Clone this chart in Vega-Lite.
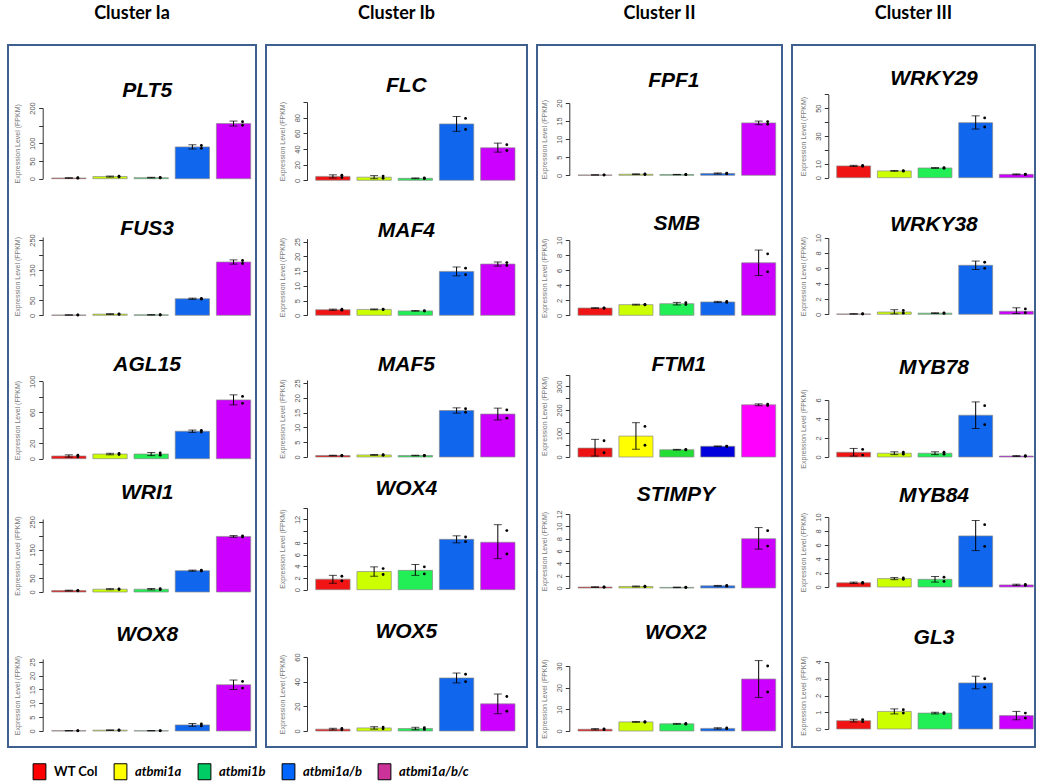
{
"$schema":"https://vega.github.io/schema/vega-lite/v6.json",
"padding":{"left":7,"top":4,"right":0,"bottom":0},
"background":"white",
"spacing":8,
"config":{
 "view":{"stroke":"#3f5f8f","strokeWidth":2},
 "font":"Liberation Sans",
 "axis":{"grid":false,"domainColor":"#333","tickColor":"#333","tickSize":4,"labelFontSize":7.5,"labelColor":"#555","labelAngle":270,"labelAlign":"center","labelBaseline":"bottom","labelPadding":2,"titleFontSize":7,"titleColor":"#777","titleFontWeight":"normal","titlePadding":8,"labelOverlap":false,"labelFlush":false,"format":"d"},
 "title":{"font":"Lato","fontSize":18,"fontWeight":"bold","color":"black","offset":22,"baseline":"alphabetic","anchor":"middle"}
},
"data":{"values":[
{"gene":"PLT5","geno":"WT Col","mean":2,"lo":1.2,"hi":2.8,"r1":1.4,"r2":2.6},
{"gene":"PLT5","geno":"atbmi1a","mean":6,"lo":4.5,"hi":7.5,"r1":5,"r2":7},
{"gene":"PLT5","geno":"atbmi1b","mean":3,"lo":2,"hi":4,"r1":2.3,"r2":3.7},
{"gene":"PLT5","geno":"atbmi1a/b","mean":90,"lo":84,"hi":96,"r1":86,"r2":94},
{"gene":"PLT5","geno":"atbmi1a/b/c","mean":156,"lo":149,"hi":163,"r1":151,"r2":161},
{"gene":"FUS3","geno":"WT Col","mean":1,"lo":0.5,"hi":1.5,"r1":0.6,"r2":1.4},
{"gene":"FUS3","geno":"atbmi1a","mean":4,"lo":2.5,"hi":5.5,"r1":3,"r2":5},
{"gene":"FUS3","geno":"atbmi1b","mean":1.5,"lo":0.8,"hi":2.2,"r1":1,"r2":2},
{"gene":"FUS3","geno":"atbmi1a/b","mean":55,"lo":53,"hi":57,"r1":53.6,"r2":56.4},
{"gene":"FUS3","geno":"atbmi1a/b/c","mean":177,"lo":170,"hi":184,"r1":172,"r2":182},
{"gene":"AGL15","geno":"WT Col","mean":3.5,"lo":2,"hi":5,"r1":2.5,"r2":4.5},
{"gene":"AGL15","geno":"atbmi1a","mean":6,"lo":5,"hi":7,"r1":5.3,"r2":6.7},
{"gene":"AGL15","geno":"atbmi1b","mean":6,"lo":4,"hi":8,"r1":4.6,"r2":7.4},
{"gene":"AGL15","geno":"atbmi1a/b","mean":35.5,"lo":34,"hi":37,"r1":34.4,"r2":36.6},
{"gene":"AGL15","geno":"atbmi1a/b/c","mean":76,"lo":69.5,"hi":82.5,"r1":71.5,"r2":80.5},
{"gene":"WRI1","geno":"WT Col","mean":5,"lo":3.5,"hi":6.5,"r1":4,"r2":6},
{"gene":"WRI1","geno":"atbmi1a","mean":10,"lo":8,"hi":12,"r1":8.6,"r2":11.4},
{"gene":"WRI1","geno":"atbmi1b","mean":10,"lo":7.5,"hi":12.5,"r1":8.2,"r2":11.8},
{"gene":"WRI1","geno":"atbmi1a/b","mean":76,"lo":74,"hi":78,"r1":74.6,"r2":77.4},
{"gene":"WRI1","geno":"atbmi1a/b/c","mean":198,"lo":195,"hi":201,"r1":196,"r2":200},
{"gene":"WOX8","geno":"WT Col","mean":0.1,"lo":0.05,"hi":0.15,"r1":0.07,"r2":0.13},
{"gene":"WOX8","geno":"atbmi1a","mean":0.3,"lo":0.2,"hi":0.4,"r1":0.23,"r2":0.37},
{"gene":"WOX8","geno":"atbmi1b","mean":0.1,"lo":0.05,"hi":0.15,"r1":0.07,"r2":0.13},
{"gene":"WOX8","geno":"atbmi1a/b","mean":2.2,"lo":1.7,"hi":2.7,"r1":1.85,"r2":2.55},
{"gene":"WOX8","geno":"atbmi1a/b/c","mean":16.7,"lo":15,"hi":18.4,"r1":15.5,"r2":17.9},
{"gene":"FLC","geno":"WT Col","mean":5,"lo":3,"hi":7,"r1":3.6,"r2":6.4},
{"gene":"FLC","geno":"atbmi1a","mean":4,"lo":2,"hi":6,"r1":2.6,"r2":5.4},
{"gene":"FLC","geno":"atbmi1b","mean":2.5,"lo":2,"hi":3,"r1":2.1,"r2":2.9},
{"gene":"FLC","geno":"atbmi1a/b","mean":72,"lo":62.5,"hi":81.5,"r1":65,"r2":79},
{"gene":"FLC","geno":"atbmi1a/b/c","mean":41.5,"lo":36,"hi":47.5,"r1":38,"r2":45.5},
{"gene":"MAF4","geno":"WT Col","mean":1.9,"lo":1.7,"hi":2.1,"r1":1.75,"r2":2.05},
{"gene":"MAF4","geno":"atbmi1a","mean":2,"lo":1.85,"hi":2.15,"r1":1.9,"r2":2.1},
{"gene":"MAF4","geno":"atbmi1b","mean":1.5,"lo":1.4,"hi":1.6,"r1":1.43,"r2":1.57},
{"gene":"MAF4","geno":"atbmi1a/b","mean":14.9,"lo":13.4,"hi":16.4,"r1":13.8,"r2":16},
{"gene":"MAF4","geno":"atbmi1a/b/c","mean":17.4,"lo":16.7,"hi":18.1,"r1":16.9,"r2":17.9},
{"gene":"MAF5","geno":"WT Col","mean":0.5,"lo":0.4,"hi":0.6,"r1":0.43,"r2":0.57},
{"gene":"MAF5","geno":"atbmi1a","mean":0.7,"lo":0.55,"hi":0.85,"r1":0.6,"r2":0.8},
{"gene":"MAF5","geno":"atbmi1b","mean":0.5,"lo":0.4,"hi":0.6,"r1":0.43,"r2":0.57},
{"gene":"MAF5","geno":"atbmi1a/b","mean":15.7,"lo":14.8,"hi":16.6,"r1":15.1,"r2":16.3},
{"gene":"MAF5","geno":"atbmi1a/b/c","mean":14.5,"lo":12.5,"hi":16.5,"r1":13.1,"r2":15.9},
{"gene":"WOX4","geno":"WT Col","mean":1.8,"lo":1.1,"hi":2.45,"r1":1.5,"r2":2.3},
{"gene":"WOX4","geno":"atbmi1a","mean":3.1,"lo":2.3,"hi":3.9,"r1":2.6,"r2":3.6},
{"gene":"WOX4","geno":"atbmi1b","mean":3.3,"lo":2.45,"hi":4.3,"r1":2.7,"r2":3.9},
{"gene":"WOX4","geno":"atbmi1a/b","mean":8.6,"lo":8,"hi":9.2,"r1":8.2,"r2":9},
{"gene":"WOX4","geno":"atbmi1a/b/c","mean":8.1,"lo":5.3,"hi":11.1,"r1":6.1,"r2":10.1},
{"gene":"WOX5","geno":"WT Col","mean":1.5,"lo":0.8,"hi":2.2,"r1":1,"r2":2},
{"gene":"WOX5","geno":"atbmi1a","mean":2.5,"lo":1.5,"hi":3.5,"r1":1.8,"r2":3.2},
{"gene":"WOX5","geno":"atbmi1b","mean":2,"lo":1,"hi":3,"r1":1.3,"r2":2.7},
{"gene":"WOX5","geno":"atbmi1a/b","mean":43,"lo":39,"hi":47,"r1":40,"r2":46},
{"gene":"WOX5","geno":"atbmi1a/b/c","mean":22,"lo":14,"hi":30,"r1":16,"r2":28},
{"gene":"FPF1","geno":"WT Col","mean":0.1,"lo":0.05,"hi":0.15,"r1":0.07,"r2":0.13},
{"gene":"FPF1","geno":"atbmi1a","mean":0.3,"lo":0.2,"hi":0.4,"r1":0.23,"r2":0.37},
{"gene":"FPF1","geno":"atbmi1b","mean":0.2,"lo":0.15,"hi":0.25,"r1":0.17,"r2":0.23},
{"gene":"FPF1","geno":"atbmi1a/b","mean":0.5,"lo":0.35,"hi":0.65,"r1":0.4,"r2":0.6},
{"gene":"FPF1","geno":"atbmi1a/b/c","mean":14.5,"lo":14,"hi":15,"r1":14.15,"r2":14.85},
{"gene":"SMB","geno":"WT Col","mean":0.97,"lo":0.93,"hi":1.01,"r1":0.94,"r2":1},
{"gene":"SMB","geno":"atbmi1a","mean":1.42,"lo":1.36,"hi":1.48,"r1":1.38,"r2":1.46},
{"gene":"SMB","geno":"atbmi1b","mean":1.55,"lo":1.38,"hi":1.72,"r1":1.43,"r2":1.67},
{"gene":"SMB","geno":"atbmi1a/b","mean":1.78,"lo":1.7,"hi":1.86,"r1":1.72,"r2":1.84},
{"gene":"SMB","geno":"atbmi1a/b/c","mean":7,"lo":5.3,"hi":8.7,"r1":5.8,"r2":8.2},
{"gene":"FTM1","geno":"WT Col","mean":38,"lo":4,"hi":75,"r1":18,"r2":69},
{"gene":"FTM1","geno":"atbmi1a","mean":89,"lo":33,"hi":146,"r1":50,"r2":130},
{"gene":"FTM1","geno":"atbmi1b","mean":31,"lo":29.5,"hi":32.5,"r1":30,"r2":32},
{"gene":"FTM1","geno":"atbmi1a/b","mean":45.5,"lo":44,"hi":47,"r1":44.5,"r2":46.5},
{"gene":"FTM1","geno":"atbmi1a/b/c","mean":222,"lo":218,"hi":226,"r1":219,"r2":225},
{"gene":"STIMPY","geno":"WT Col","mean":0.15,"lo":0.1,"hi":0.2,"r1":0.12,"r2":0.18},
{"gene":"STIMPY","geno":"atbmi1a","mean":0.25,"lo":0.18,"hi":0.32,"r1":0.2,"r2":0.3},
{"gene":"STIMPY","geno":"atbmi1b","mean":0.1,"lo":0.06,"hi":0.14,"r1":0.07,"r2":0.13},
{"gene":"STIMPY","geno":"atbmi1a/b","mean":0.35,"lo":0.28,"hi":0.42,"r1":0.3,"r2":0.4},
{"gene":"STIMPY","geno":"atbmi1a/b/c","mean":8,"lo":6.3,"hi":9.8,"r1":6.8,"r2":9.3},
{"gene":"WOX2","geno":"WT Col","mean":0.8,"lo":0.5,"hi":1.1,"r1":0.6,"r2":1},
{"gene":"WOX2","geno":"atbmi1a","mean":4.2,"lo":4,"hi":4.4,"r1":4.05,"r2":4.35},
{"gene":"WOX2","geno":"atbmi1b","mean":3.3,"lo":3.1,"hi":3.5,"r1":3.15,"r2":3.45},
{"gene":"WOX2","geno":"atbmi1a/b","mean":1.2,"lo":0.9,"hi":1.5,"r1":1,"r2":1.4},
{"gene":"WOX2","geno":"atbmi1a/b/c","mean":24,"lo":15.5,"hi":32.5,"r1":18,"r2":30},
{"gene":"WRKY29","geno":"WT Col","mean":8.5,"lo":8.1,"hi":8.9,"r1":8.2,"r2":8.8},
{"gene":"WRKY29","geno":"atbmi1a","mean":4.9,"lo":4.6,"hi":5.2,"r1":4.7,"r2":5.1},
{"gene":"WRKY29","geno":"atbmi1b","mean":7,"lo":6.7,"hi":7.3,"r1":6.8,"r2":7.2},
{"gene":"WRKY29","geno":"atbmi1a/b","mean":39.6,"lo":35,"hi":44.5,"r1":36.5,"r2":43},
{"gene":"WRKY29","geno":"atbmi1a/b/c","mean":2.4,"lo":2.1,"hi":2.7,"r1":2.2,"r2":2.6},
{"gene":"WRKY38","geno":"WT Col","mean":0.05,"lo":0.02,"hi":0.08,"r1":0.03,"r2":0.07},
{"gene":"WRKY38","geno":"atbmi1a","mean":0.3,"lo":0.05,"hi":0.6,"r1":0.15,"r2":0.5},
{"gene":"WRKY38","geno":"atbmi1b","mean":0.15,"lo":0.1,"hi":0.2,"r1":0.12,"r2":0.18},
{"gene":"WRKY38","geno":"atbmi1a/b","mean":6.4,"lo":5.85,"hi":6.95,"r1":6,"r2":6.8},
{"gene":"WRKY38","geno":"atbmi1a/b/c","mean":0.4,"lo":0.1,"hi":0.85,"r1":0.2,"r2":0.7},
{"gene":"MYB78","geno":"WT Col","mean":0.5,"lo":0.1,"hi":0.9,"r1":0.2,"r2":0.8},
{"gene":"MYB78","geno":"atbmi1a","mean":0.4,"lo":0.25,"hi":0.55,"r1":0.3,"r2":0.5},
{"gene":"MYB78","geno":"atbmi1b","mean":0.4,"lo":0.25,"hi":0.55,"r1":0.3,"r2":0.5},
{"gene":"MYB78","geno":"atbmi1a/b","mean":4.4,"lo":3,"hi":5.8,"r1":3.4,"r2":5.4},
{"gene":"MYB78","geno":"atbmi1a/b/c","mean":0.1,"lo":0.05,"hi":0.15,"r1":0.07,"r2":0.13},
{"gene":"MYB84","geno":"WT Col","mean":0.6,"lo":0.5,"hi":0.7,"r1":0.53,"r2":0.67},
{"gene":"MYB84","geno":"atbmi1a","mean":1.2,"lo":1.05,"hi":1.35,"r1":1.1,"r2":1.3},
{"gene":"MYB84","geno":"atbmi1b","mean":1.1,"lo":0.7,"hi":1.5,"r1":0.8,"r2":1.4},
{"gene":"MYB84","geno":"atbmi1a/b","mean":7.3,"lo":5.2,"hi":9.5,"r1":5.8,"r2":8.9},
{"gene":"MYB84","geno":"atbmi1a/b/c","mean":0.3,"lo":0.2,"hi":0.4,"r1":0.23,"r2":0.37},
{"gene":"GL3","geno":"WT Col","mean":0.5,"lo":0.42,"hi":0.58,"r1":0.44,"r2":0.56},
{"gene":"GL3","geno":"atbmi1a","mean":1.05,"lo":0.9,"hi":1.2,"r1":0.95,"r2":1.15},
{"gene":"GL3","geno":"atbmi1b","mean":0.95,"lo":0.9,"hi":1,"r1":0.92,"r2":0.98},
{"gene":"GL3","geno":"atbmi1a/b","mean":2.75,"lo":2.4,"hi":3.15,"r1":2.5,"r2":3},
{"gene":"GL3","geno":"atbmi1a/b/c","mean":0.8,"lo":0.55,"hi":1.05,"r1":0.65,"r2":0.95}
]},
"hconcat":[
{"title":"Cluster Ia","width":248,"height":702,
 "resolve":{"scale":{"y":"independent"},"axis":{"y":"independent"}},
 "layer":[
  {"transform":[{"filter":"datum.gene === 'PLT5'"}],
   "encoding":{"x":{"field":"geno","type":"nominal","sort":null,"scale":{"domain":["WT Col","atbmi1a","atbmi1b","atbmi1a/b","atbmi1a/b/c"],"range":[43.7,242.7],"paddingInner":0.1667,"paddingOuter":0},"axis":null}},
   "layer":[
    {"mark":{"type":"bar","stroke":"#8a8a8a","strokeWidth":0.7},"encoding":{"y":{"field":"mean","type":"quantitative","title":"Expression Level (FPKM)","scale":{"domain":[0,200],"range":[133.7,63]},"axis":{"orient":"left","offset":-34.7,"format":"d","values":[0,50,100,150,200],"labelExpr":"indexof([150], datum.value) >= 0 ? '' : datum.label"}},"fill":{"field":"geno","type":"nominal","scale":{"domain":["WT Col","atbmi1a","atbmi1b","atbmi1a/b","atbmi1a/b/c"],"range":["#f01414","#ccff00","#22ee55","#1166ee","#cc00ff"]},"legend":null}}},
    {"mark":{"type":"errorbar","ticks":{"size":8,"thickness":1,"color":"black"},"rule":{"strokeWidth":1,"color":"black"}},"encoding":{"y":{"field":"lo","type":"quantitative","title":"Expression Level (FPKM)"},"y2":{"field":"hi"}}},
    {"mark":{"type":"point","filled":true,"color":"black","size":8,"xOffset":9,"opacity":1},"encoding":{"y":{"field":"r1","type":"quantitative","title":"Expression Level (FPKM)"}}},
    {"mark":{"type":"point","filled":true,"color":"black","size":8,"xOffset":9,"opacity":1},"encoding":{"y":{"field":"r2","type":"quantitative","title":"Expression Level (FPKM)"}}},
    {"mark":{"type":"point","shape":"square","filled":true,"opacity":0},"encoding":{"y":{"field":"mean","type":"quantitative","title":"Expression Level (FPKM)"},"color":{"field":"geno","type":"nominal","sort":["WT Col","atbmi1a","atbmi1b","atbmi1a/b","atbmi1a/b/c"],"scale":{"range":["#ff0000","#ffff00","#00cc66","#0066ff","#cc3399"]},"legend":{"orient":"none","legendX":23,"legendY":718,"direction":"horizontal","title":null,"symbolType":"M-0.8,-1H0.8V1H-0.8Z","symbolSize":256,"labelFont":"Lato","labelFontSize":13,"labelFontWeight":"bold","labelColor":"black","labelOffset":6,"columnPadding":14,"encode":{"symbols":{"update":{"opacity":{"value":1},"stroke":{"value":"black"},"strokeWidth":{"value":1}}},"labels":{"update":{"fontStyle":{"signal":"datum.label === 'WT Col' ? 'normal' : 'italic'"}}}}}}}},
    {"data":{"values":[{"gene":"PLT5"}]},"mark":{"type":"text","font":"Liberation Sans","fontSize":21,"fontWeight":"bold","fontStyle":"italic","align":"center","baseline":"alphabetic","dx":-4,"dy":-11},"encoding":{"x":{"datum":"atbmi1b","bandPosition":0.5},"y":{"datum":200},"text":{"field":"gene"}}}
   ]},
  {"transform":[{"filter":"datum.gene === 'FUS3'"}],
   "encoding":{"x":{"field":"geno","type":"nominal","sort":null,"scale":{"domain":["WT Col","atbmi1a","atbmi1b","atbmi1a/b","atbmi1a/b/c"],"range":[43.7,242.7],"paddingInner":0.1667,"paddingOuter":0},"axis":null}},
   "layer":[
    {"mark":{"type":"bar","stroke":"#8a8a8a","strokeWidth":0.7},"encoding":{"y":{"field":"mean","type":"quantitative","title":"Expression Level (FPKM)","scale":{"domain":[0,250],"range":[270.3,192]},"axis":{"orient":"left","offset":-34.7,"format":"d","values":[0,50,100,150,200,250],"labelExpr":"indexof([100,200], datum.value) >= 0 ? '' : datum.label"}},"fill":{"field":"geno","type":"nominal","legend":null}}},
    {"mark":{"type":"errorbar","ticks":{"size":8,"thickness":1,"color":"black"},"rule":{"strokeWidth":1,"color":"black"}},"encoding":{"y":{"field":"lo","type":"quantitative","title":"Expression Level (FPKM)"},"y2":{"field":"hi"}}},
    {"mark":{"type":"point","filled":true,"color":"black","size":8,"xOffset":9,"opacity":1},"encoding":{"y":{"field":"r1","type":"quantitative","title":"Expression Level (FPKM)"}}},
    {"mark":{"type":"point","filled":true,"color":"black","size":8,"xOffset":9,"opacity":1},"encoding":{"y":{"field":"r2","type":"quantitative","title":"Expression Level (FPKM)"}}},
    {"data":{"values":[{"gene":"FUS3"}]},"mark":{"type":"text","font":"Liberation Sans","fontSize":21,"fontWeight":"bold","fontStyle":"italic","align":"center","baseline":"alphabetic","dx":-4,"dy":-5},"encoding":{"x":{"datum":"atbmi1b","bandPosition":0.5},"y":{"datum":250},"text":{"field":"gene"}}}
   ]},
  {"transform":[{"filter":"datum.gene === 'AGL15'"}],
   "encoding":{"x":{"field":"geno","type":"nominal","sort":null,"scale":{"domain":["WT Col","atbmi1a","atbmi1b","atbmi1a/b","atbmi1a/b/c"],"range":[43.7,242.7],"paddingInner":0.1667,"paddingOuter":0},"axis":null}},
   "layer":[
    {"mark":{"type":"bar","stroke":"#8a8a8a","strokeWidth":0.7},"encoding":{"y":{"field":"mean","type":"quantitative","title":"Expression Level (FPKM)","scale":{"domain":[0,100],"range":[413.7,336.3]},"axis":{"orient":"left","offset":-34.7,"format":"d","values":[0,20,40,60,80,100],"labelExpr":"indexof([40,80], datum.value) >= 0 ? '' : datum.label"}},"fill":{"field":"geno","type":"nominal","legend":null}}},
    {"mark":{"type":"errorbar","ticks":{"size":8,"thickness":1,"color":"black"},"rule":{"strokeWidth":1,"color":"black"}},"encoding":{"y":{"field":"lo","type":"quantitative","title":"Expression Level (FPKM)"},"y2":{"field":"hi"}}},
    {"mark":{"type":"point","filled":true,"color":"black","size":8,"xOffset":9,"opacity":1},"encoding":{"y":{"field":"r1","type":"quantitative","title":"Expression Level (FPKM)"}}},
    {"mark":{"type":"point","filled":true,"color":"black","size":8,"xOffset":9,"opacity":1},"encoding":{"y":{"field":"r2","type":"quantitative","title":"Expression Level (FPKM)"}}},
    {"data":{"values":[{"gene":"AGL15"}]},"mark":{"type":"text","font":"Liberation Sans","fontSize":21,"fontWeight":"bold","fontStyle":"italic","align":"center","baseline":"alphabetic","dx":-4,"dy":-10},"encoding":{"x":{"datum":"atbmi1b","bandPosition":0.5},"y":{"datum":100},"text":{"field":"gene"}}}
   ]},
  {"transform":[{"filter":"datum.gene === 'WRI1'"}],
   "encoding":{"x":{"field":"geno","type":"nominal","sort":null,"scale":{"domain":["WT Col","atbmi1a","atbmi1b","atbmi1a/b","atbmi1a/b/c"],"range":[43.7,242.7],"paddingInner":0.1667,"paddingOuter":0},"axis":null}},
   "layer":[
    {"mark":{"type":"bar","stroke":"#8a8a8a","strokeWidth":0.7},"encoding":{"y":{"field":"mean","type":"quantitative","title":"Expression Level (FPKM)","scale":{"domain":[0,250],"range":[547,474]},"axis":{"orient":"left","offset":-34.7,"format":"d","values":[0,50,100,150,200,250],"labelExpr":"indexof([100,200], datum.value) >= 0 ? '' : datum.label"}},"fill":{"field":"geno","type":"nominal","legend":null}}},
    {"mark":{"type":"errorbar","ticks":{"size":8,"thickness":1,"color":"black"},"rule":{"strokeWidth":1,"color":"black"}},"encoding":{"y":{"field":"lo","type":"quantitative","title":"Expression Level (FPKM)"},"y2":{"field":"hi"}}},
    {"mark":{"type":"point","filled":true,"color":"black","size":8,"xOffset":9,"opacity":1},"encoding":{"y":{"field":"r1","type":"quantitative","title":"Expression Level (FPKM)"}}},
    {"mark":{"type":"point","filled":true,"color":"black","size":8,"xOffset":9,"opacity":1},"encoding":{"y":{"field":"r2","type":"quantitative","title":"Expression Level (FPKM)"}}},
    {"data":{"values":[{"gene":"WRI1"}]},"mark":{"type":"text","font":"Liberation Sans","fontSize":21,"fontWeight":"bold","fontStyle":"italic","align":"center","baseline":"alphabetic","dx":-4,"dy":-23},"encoding":{"x":{"datum":"atbmi1b","bandPosition":0.5},"y":{"datum":250},"text":{"field":"gene"}}}
   ]},
  {"transform":[{"filter":"datum.gene === 'WOX8'"}],
   "encoding":{"x":{"field":"geno","type":"nominal","sort":null,"scale":{"domain":["WT Col","atbmi1a","atbmi1b","atbmi1a/b","atbmi1a/b/c"],"range":[43.7,242.7],"paddingInner":0.1667,"paddingOuter":0},"axis":null}},
   "layer":[
    {"mark":{"type":"bar","stroke":"#8a8a8a","strokeWidth":0.7},"encoding":{"y":{"field":"mean","type":"quantitative","title":"Expression Level (FPKM)","scale":{"domain":[0,25],"range":[686,614]},"axis":{"orient":"left","offset":-34.7,"format":"d","values":[0,5,10,15,20,25]}},"fill":{"field":"geno","type":"nominal","legend":null}}},
    {"mark":{"type":"errorbar","ticks":{"size":8,"thickness":1,"color":"black"},"rule":{"strokeWidth":1,"color":"black"}},"encoding":{"y":{"field":"lo","type":"quantitative","title":"Expression Level (FPKM)"},"y2":{"field":"hi"}}},
    {"mark":{"type":"point","filled":true,"color":"black","size":8,"xOffset":9,"opacity":1},"encoding":{"y":{"field":"r1","type":"quantitative","title":"Expression Level (FPKM)"}}},
    {"mark":{"type":"point","filled":true,"color":"black","size":8,"xOffset":9,"opacity":1},"encoding":{"y":{"field":"r2","type":"quantitative","title":"Expression Level (FPKM)"}}},
    {"data":{"values":[{"gene":"WOX8"}]},"mark":{"type":"text","font":"Liberation Sans","fontSize":21,"fontWeight":"bold","fontStyle":"italic","align":"center","baseline":"alphabetic","dx":-4,"dy":-21},"encoding":{"x":{"datum":"atbmi1b","bandPosition":0.5},"y":{"datum":25},"text":{"field":"gene"}}}
   ]}
 ]},
{"title":"Cluster Ib","width":261,"height":702,
 "resolve":{"scale":{"y":"independent"},"axis":{"y":"independent"}},
 "layer":[
  {"transform":[{"filter":"datum.gene === 'FLC'"}],
   "encoding":{"x":{"field":"geno","type":"nominal","sort":null,"scale":{"domain":["WT Col","atbmi1a","atbmi1b","atbmi1a/b","atbmi1a/b/c"],"range":[49.7,249],"paddingInner":0.1667,"paddingOuter":0},"axis":null}},
   "layer":[
    {"mark":{"type":"bar","stroke":"#8a8a8a","strokeWidth":0.7},"encoding":{"y":{"field":"mean","type":"quantitative","title":"Expression Level (FPKM)","scale":{"domain":[0,100],"range":[135.3,57]},"axis":{"orient":"left","offset":-41,"format":"d","values":[0,20,40,60,80,100],"labelExpr":"indexof([100], datum.value) >= 0 ? '' : datum.label"}},"fill":{"field":"geno","type":"nominal","legend":null}}},
    {"mark":{"type":"errorbar","ticks":{"size":8,"thickness":1,"color":"black"},"rule":{"strokeWidth":1,"color":"black"}},"encoding":{"y":{"field":"lo","type":"quantitative","title":"Expression Level (FPKM)"},"y2":{"field":"hi"}}},
    {"mark":{"type":"point","filled":true,"color":"black","size":8,"xOffset":9,"opacity":1},"encoding":{"y":{"field":"r1","type":"quantitative","title":"Expression Level (FPKM)"}}},
    {"mark":{"type":"point","filled":true,"color":"black","size":8,"xOffset":9,"opacity":1},"encoding":{"y":{"field":"r2","type":"quantitative","title":"Expression Level (FPKM)"}}},
    {"data":{"values":[{"gene":"FLC"}]},"mark":{"type":"text","font":"Liberation Sans","fontSize":21,"fontWeight":"bold","fontStyle":"italic","align":"center","baseline":"alphabetic","dx":-9,"dy":-10},"encoding":{"x":{"datum":"atbmi1b","bandPosition":0.5},"y":{"datum":100},"text":{"field":"gene"}}}
   ]},
  {"transform":[{"filter":"datum.gene === 'MAF4'"}],
   "encoding":{"x":{"field":"geno","type":"nominal","sort":null,"scale":{"domain":["WT Col","atbmi1a","atbmi1b","atbmi1a/b","atbmi1a/b/c"],"range":[49.7,249],"paddingInner":0.1667,"paddingOuter":0},"axis":null}},
   "layer":[
    {"mark":{"type":"bar","stroke":"#8a8a8a","strokeWidth":0.7},"encoding":{"y":{"field":"mean","type":"quantitative","title":"Expression Level (FPKM)","scale":{"domain":[0,25],"range":[270.3,193.7]},"axis":{"orient":"left","offset":-41,"format":"d","values":[0,5,10,15,20,25]}},"fill":{"field":"geno","type":"nominal","legend":null}}},
    {"mark":{"type":"errorbar","ticks":{"size":8,"thickness":1,"color":"black"},"rule":{"strokeWidth":1,"color":"black"}},"encoding":{"y":{"field":"lo","type":"quantitative","title":"Expression Level (FPKM)"},"y2":{"field":"hi"}}},
    {"mark":{"type":"point","filled":true,"color":"black","size":8,"xOffset":9,"opacity":1},"encoding":{"y":{"field":"r1","type":"quantitative","title":"Expression Level (FPKM)"}}},
    {"mark":{"type":"point","filled":true,"color":"black","size":8,"xOffset":9,"opacity":1},"encoding":{"y":{"field":"r2","type":"quantitative","title":"Expression Level (FPKM)"}}},
    {"data":{"values":[{"gene":"MAF4"}]},"mark":{"type":"text","font":"Liberation Sans","fontSize":21,"fontWeight":"bold","fontStyle":"italic","align":"center","baseline":"alphabetic","dx":-9,"dy":-5},"encoding":{"x":{"datum":"atbmi1b","bandPosition":0.5},"y":{"datum":25},"text":{"field":"gene"}}}
   ]},
  {"transform":[{"filter":"datum.gene === 'MAF5'"}],
   "encoding":{"x":{"field":"geno","type":"nominal","sort":null,"scale":{"domain":["WT Col","atbmi1a","atbmi1b","atbmi1a/b","atbmi1a/b/c"],"range":[49.7,249],"paddingInner":0.1667,"paddingOuter":0},"axis":null}},
   "layer":[
    {"mark":{"type":"bar","stroke":"#8a8a8a","strokeWidth":0.7},"encoding":{"y":{"field":"mean","type":"quantitative","title":"Expression Level (FPKM)","scale":{"domain":[0,25],"range":[412,335]},"axis":{"orient":"left","offset":-41,"format":"d","values":[0,5,10,15,20,25]}},"fill":{"field":"geno","type":"nominal","legend":null}}},
    {"mark":{"type":"errorbar","ticks":{"size":8,"thickness":1,"color":"black"},"rule":{"strokeWidth":1,"color":"black"}},"encoding":{"y":{"field":"lo","type":"quantitative","title":"Expression Level (FPKM)"},"y2":{"field":"hi"}}},
    {"mark":{"type":"point","filled":true,"color":"black","size":8,"xOffset":9,"opacity":1},"encoding":{"y":{"field":"r1","type":"quantitative","title":"Expression Level (FPKM)"}}},
    {"mark":{"type":"point","filled":true,"color":"black","size":8,"xOffset":9,"opacity":1},"encoding":{"y":{"field":"r2","type":"quantitative","title":"Expression Level (FPKM)"}}},
    {"data":{"values":[{"gene":"MAF5"}]},"mark":{"type":"text","font":"Liberation Sans","fontSize":21,"fontWeight":"bold","fontStyle":"italic","align":"center","baseline":"alphabetic","dx":-9,"dy":-12},"encoding":{"x":{"datum":"atbmi1b","bandPosition":0.5},"y":{"datum":25},"text":{"field":"gene"}}}
   ]},
  {"transform":[{"filter":"datum.gene === 'WOX4'"}],
   "encoding":{"x":{"field":"geno","type":"nominal","sort":null,"scale":{"domain":["WT Col","atbmi1a","atbmi1b","atbmi1a/b","atbmi1a/b/c"],"range":[49.7,249],"paddingInner":0.1667,"paddingOuter":0},"axis":null}},
   "layer":[
    {"mark":{"type":"bar","stroke":"#8a8a8a","strokeWidth":0.7},"encoding":{"y":{"field":"mean","type":"quantitative","title":"Expression Level (FPKM)","scale":{"domain":[0,14],"range":[544.7,462.7]},"axis":{"orient":"left","offset":-41,"format":"d","values":[0,2,4,6,8,10,12,14],"labelExpr":"indexof([10,14], datum.value) >= 0 ? '' : datum.label"}},"fill":{"field":"geno","type":"nominal","legend":null}}},
    {"mark":{"type":"errorbar","ticks":{"size":8,"thickness":1,"color":"black"},"rule":{"strokeWidth":1,"color":"black"}},"encoding":{"y":{"field":"lo","type":"quantitative","title":"Expression Level (FPKM)"},"y2":{"field":"hi"}}},
    {"mark":{"type":"point","filled":true,"color":"black","size":8,"xOffset":9,"opacity":1},"encoding":{"y":{"field":"r1","type":"quantitative","title":"Expression Level (FPKM)"}}},
    {"mark":{"type":"point","filled":true,"color":"black","size":8,"xOffset":9,"opacity":1},"encoding":{"y":{"field":"r2","type":"quantitative","title":"Expression Level (FPKM)"}}},
    {"data":{"values":[{"gene":"WOX4"}]},"mark":{"type":"text","font":"Liberation Sans","fontSize":21,"fontWeight":"bold","fontStyle":"italic","align":"center","baseline":"alphabetic","dx":-9,"dy":-12.4},"encoding":{"x":{"datum":"atbmi1b","bandPosition":0.5},"y":{"datum":14},"text":{"field":"gene"}}}
   ]},
  {"transform":[{"filter":"datum.gene === 'WOX5'"}],
   "encoding":{"x":{"field":"geno","type":"nominal","sort":null,"scale":{"domain":["WT Col","atbmi1a","atbmi1b","atbmi1a/b","atbmi1a/b/c"],"range":[49.7,249],"paddingInner":0.1667,"paddingOuter":0},"axis":null}},
   "layer":[
    {"mark":{"type":"bar","stroke":"#8a8a8a","strokeWidth":0.7},"encoding":{"y":{"field":"mean","type":"quantitative","title":"Expression Level (FPKM)","scale":{"domain":[0,60],"range":[686,612]},"axis":{"orient":"left","offset":-41,"format":"d","values":[0,20,40,60]}},"fill":{"field":"geno","type":"nominal","legend":null}}},
    {"mark":{"type":"errorbar","ticks":{"size":8,"thickness":1,"color":"black"},"rule":{"strokeWidth":1,"color":"black"}},"encoding":{"y":{"field":"lo","type":"quantitative","title":"Expression Level (FPKM)"},"y2":{"field":"hi"}}},
    {"mark":{"type":"point","filled":true,"color":"black","size":8,"xOffset":9,"opacity":1},"encoding":{"y":{"field":"r1","type":"quantitative","title":"Expression Level (FPKM)"}}},
    {"mark":{"type":"point","filled":true,"color":"black","size":8,"xOffset":9,"opacity":1},"encoding":{"y":{"field":"r2","type":"quantitative","title":"Expression Level (FPKM)"}}},
    {"data":{"values":[{"gene":"WOX5"}]},"mark":{"type":"text","font":"Liberation Sans","fontSize":21,"fontWeight":"bold","fontStyle":"italic","align":"center","baseline":"alphabetic","dx":-9,"dy":-19},"encoding":{"x":{"datum":"atbmi1b","bandPosition":0.5},"y":{"datum":60},"text":{"field":"gene"}}}
   ]}
 ]},
{"title":"Cluster II","width":245,"height":702,
 "resolve":{"scale":{"y":"independent"},"axis":{"y":"independent"}},
 "layer":[
  {"transform":[{"filter":"datum.gene === 'FPF1'"}],
   "encoding":{"x":{"field":"geno","type":"nominal","sort":null,"scale":{"domain":["WT Col","atbmi1a","atbmi1b","atbmi1a/b","atbmi1a/b/c"],"range":[41,238.7],"paddingInner":0.1667,"paddingOuter":0},"axis":null}},
   "layer":[
    {"mark":{"type":"bar","stroke":"#8a8a8a","strokeWidth":0.7},"encoding":{"y":{"field":"mean","type":"quantitative","title":"Expression Level (FPKM)","scale":{"domain":[0,20],"range":[130.3,58]},"axis":{"orient":"left","offset":-32.3,"format":"d","values":[0,5,10,15,20]}},"fill":{"field":"geno","type":"nominal","legend":null}}},
    {"mark":{"type":"errorbar","ticks":{"size":8,"thickness":1,"color":"black"},"rule":{"strokeWidth":1,"color":"black"}},"encoding":{"y":{"field":"lo","type":"quantitative","title":"Expression Level (FPKM)"},"y2":{"field":"hi"}}},
    {"mark":{"type":"point","filled":true,"color":"black","size":8,"xOffset":9,"opacity":1},"encoding":{"y":{"field":"r1","type":"quantitative","title":"Expression Level (FPKM)"}}},
    {"mark":{"type":"point","filled":true,"color":"black","size":8,"xOffset":9,"opacity":1},"encoding":{"y":{"field":"r2","type":"quantitative","title":"Expression Level (FPKM)"}}},
    {"data":{"values":[{"gene":"FPF1"}]},"mark":{"type":"text","font":"Liberation Sans","fontSize":21,"fontWeight":"bold","fontStyle":"italic","align":"center","baseline":"alphabetic","dx":-3,"dy":-16},"encoding":{"x":{"datum":"atbmi1b","bandPosition":0.5},"y":{"datum":20},"text":{"field":"gene"}}}
   ]},
  {"transform":[{"filter":"datum.gene === 'SMB'"}],
   "encoding":{"x":{"field":"geno","type":"nominal","sort":null,"scale":{"domain":["WT Col","atbmi1a","atbmi1b","atbmi1a/b","atbmi1a/b/c"],"range":[41,238.7],"paddingInner":0.1667,"paddingOuter":0},"axis":null}},
   "layer":[
    {"mark":{"type":"bar","stroke":"#8a8a8a","strokeWidth":0.7},"encoding":{"y":{"field":"mean","type":"quantitative","title":"Expression Level (FPKM)","scale":{"domain":[0,10],"range":[270.3,195.3]},"axis":{"orient":"left","offset":-32.3,"format":"d","values":[0,2,4,6,8,10]}},"fill":{"field":"geno","type":"nominal","legend":null}}},
    {"mark":{"type":"errorbar","ticks":{"size":8,"thickness":1,"color":"black"},"rule":{"strokeWidth":1,"color":"black"}},"encoding":{"y":{"field":"lo","type":"quantitative","title":"Expression Level (FPKM)"},"y2":{"field":"hi"}}},
    {"mark":{"type":"point","filled":true,"color":"black","size":8,"xOffset":9,"opacity":1},"encoding":{"y":{"field":"r1","type":"quantitative","title":"Expression Level (FPKM)"}}},
    {"mark":{"type":"point","filled":true,"color":"black","size":8,"xOffset":9,"opacity":1},"encoding":{"y":{"field":"r2","type":"quantitative","title":"Expression Level (FPKM)"}}},
    {"data":{"values":[{"gene":"SMB"}]},"mark":{"type":"text","font":"Liberation Sans","fontSize":21,"fontWeight":"bold","fontStyle":"italic","align":"center","baseline":"alphabetic","dx":0,"dy":-10.6},"encoding":{"x":{"datum":"atbmi1b","bandPosition":0.5},"y":{"datum":10},"text":{"field":"gene"}}}
   ]},
  {"transform":[{"filter":"datum.gene === 'FTM1'"}],
   "encoding":{"x":{"field":"geno","type":"nominal","sort":null,"scale":{"domain":["WT Col","atbmi1a","atbmi1b","atbmi1a/b","atbmi1a/b/c"],"range":[41,238.7],"paddingInner":0.1667,"paddingOuter":0},"axis":null}},
   "layer":[
    {"mark":{"type":"bar","stroke":"#8a8a8a","strokeWidth":0.7},"encoding":{"y":{"field":"mean","type":"quantitative","title":"Expression Level (FPKM)","scale":{"domain":[0,350],"range":[412,329.7]},"axis":{"orient":"left","offset":-32.3,"format":"d","values":[0,50,100,150,200,250,300,350],"labelExpr":"indexof([50,150,250,350], datum.value) >= 0 ? '' : datum.label"}},"fill":{"condition":[{"test":"datum.geno === 'atbmi1a'","value":"#ffff00"},{"test":"datum.geno === 'atbmi1b'","value":"#22dd33"},{"test":"datum.geno === 'atbmi1a/b'","value":"#0000dd"},{"test":"datum.geno === 'atbmi1a/b/c'","value":"#ff00ff"}],"value":"#ee1111"}}},
    {"mark":{"type":"errorbar","ticks":{"size":8,"thickness":1,"color":"black"},"rule":{"strokeWidth":1,"color":"black"}},"encoding":{"y":{"field":"lo","type":"quantitative","title":"Expression Level (FPKM)"},"y2":{"field":"hi"}}},
    {"mark":{"type":"point","filled":true,"color":"black","size":8,"xOffset":9,"opacity":1},"encoding":{"y":{"field":"r1","type":"quantitative","title":"Expression Level (FPKM)"}}},
    {"mark":{"type":"point","filled":true,"color":"black","size":8,"xOffset":9,"opacity":1},"encoding":{"y":{"field":"r2","type":"quantitative","title":"Expression Level (FPKM)"}}},
    {"data":{"values":[{"gene":"FTM1"}]},"mark":{"type":"text","font":"Liberation Sans","fontSize":21,"fontWeight":"bold","fontStyle":"italic","align":"center","baseline":"alphabetic","dx":2,"dy":-4},"encoding":{"x":{"datum":"atbmi1b","bandPosition":0.5},"y":{"datum":350},"text":{"field":"gene"}}}
   ]},
  {"transform":[{"filter":"datum.gene === 'STIMPY'"}],
   "encoding":{"x":{"field":"geno","type":"nominal","sort":null,"scale":{"domain":["WT Col","atbmi1a","atbmi1b","atbmi1a/b","atbmi1a/b/c"],"range":[41,238.7],"paddingInner":0.1667,"paddingOuter":0},"axis":null}},
   "layer":[
    {"mark":{"type":"bar","stroke":"#8a8a8a","strokeWidth":0.7},"encoding":{"y":{"field":"mean","type":"quantitative","title":"Expression Level (FPKM)","scale":{"domain":[0,12],"range":[543,469]},"axis":{"orient":"left","offset":-32.3,"format":"d","values":[0,2,4,6,8,10,12]}},"fill":{"field":"geno","type":"nominal","legend":null}}},
    {"mark":{"type":"errorbar","ticks":{"size":8,"thickness":1,"color":"black"},"rule":{"strokeWidth":1,"color":"black"}},"encoding":{"y":{"field":"lo","type":"quantitative","title":"Expression Level (FPKM)"},"y2":{"field":"hi"}}},
    {"mark":{"type":"point","filled":true,"color":"black","size":8,"xOffset":9,"opacity":1},"encoding":{"y":{"field":"r1","type":"quantitative","title":"Expression Level (FPKM)"}}},
    {"mark":{"type":"point","filled":true,"color":"black","size":8,"xOffset":9,"opacity":1},"encoding":{"y":{"field":"r2","type":"quantitative","title":"Expression Level (FPKM)"}}},
    {"data":{"values":[{"gene":"STIMPY"}]},"mark":{"type":"text","font":"Liberation Sans","fontSize":21,"fontWeight":"bold","fontStyle":"italic","align":"center","baseline":"alphabetic","dx":-1,"dy":-13},"encoding":{"x":{"datum":"atbmi1b","bandPosition":0.5},"y":{"datum":12},"text":{"field":"gene"}}}
   ]},
  {"transform":[{"filter":"datum.gene === 'WOX2'"}],
   "encoding":{"x":{"field":"geno","type":"nominal","sort":null,"scale":{"domain":["WT Col","atbmi1a","atbmi1b","atbmi1a/b","atbmi1a/b/c"],"range":[41,238.7],"paddingInner":0.1667,"paddingOuter":0},"axis":null}},
   "layer":[
    {"mark":{"type":"bar","stroke":"#8a8a8a","strokeWidth":0.7},"encoding":{"y":{"field":"mean","type":"quantitative","title":"Expression Level (FPKM)","scale":{"domain":[0,30],"range":[686,621]},"axis":{"orient":"left","offset":-32.3,"format":"d","values":[0,10,20,30]}},"fill":{"field":"geno","type":"nominal","legend":null}}},
    {"mark":{"type":"errorbar","ticks":{"size":8,"thickness":1,"color":"black"},"rule":{"strokeWidth":1,"color":"black"}},"encoding":{"y":{"field":"lo","type":"quantitative","title":"Expression Level (FPKM)"},"y2":{"field":"hi"}}},
    {"mark":{"type":"point","filled":true,"color":"black","size":8,"xOffset":9,"opacity":1},"encoding":{"y":{"field":"r1","type":"quantitative","title":"Expression Level (FPKM)"}}},
    {"mark":{"type":"point","filled":true,"color":"black","size":8,"xOffset":9,"opacity":1},"encoding":{"y":{"field":"r2","type":"quantitative","title":"Expression Level (FPKM)"}}},
    {"data":{"values":[{"gene":"WOX2"}]},"mark":{"type":"text","font":"Liberation Sans","fontSize":21,"fontWeight":"bold","fontStyle":"italic","align":"center","baseline":"alphabetic","dx":-1,"dy":-27},"encoding":{"x":{"datum":"atbmi1b","bandPosition":0.5},"y":{"datum":30},"text":{"field":"gene"}}}
   ]}
 ]},
{"title":"Cluster III","width":243,"height":702,
 "resolve":{"scale":{"y":"independent"},"axis":{"y":"independent"}},
 "layer":[
  {"transform":[{"filter":"datum.gene === 'WRKY29'"}],
   "encoding":{"x":{"field":"geno","type":"nominal","sort":null,"scale":{"domain":["WT Col","atbmi1a","atbmi1b","atbmi1a/b","atbmi1a/b/c"],"range":[44.7,241.3],"paddingInner":0.1667,"paddingOuter":0},"axis":null}},
   "layer":[
    {"mark":{"type":"bar","stroke":"#8a8a8a","strokeWidth":0.7},"encoding":{"y":{"field":"mean","type":"quantitative","title":"Expression Level (FPKM)","scale":{"domain":[0,60],"range":[132.7,49.3]},"axis":{"orient":"left","offset":-36.3,"format":"d","values":[0,10,20,30,40,50,60],"labelExpr":"indexof([20,40,60], datum.value) >= 0 ? '' : datum.label"}},"fill":{"field":"geno","type":"nominal","legend":null}}},
    {"mark":{"type":"errorbar","ticks":{"size":8,"thickness":1,"color":"black"},"rule":{"strokeWidth":1,"color":"black"}},"encoding":{"y":{"field":"lo","type":"quantitative","title":"Expression Level (FPKM)"},"y2":{"field":"hi"}}},
    {"mark":{"type":"point","filled":true,"color":"black","size":8,"xOffset":9,"opacity":1},"encoding":{"y":{"field":"r1","type":"quantitative","title":"Expression Level (FPKM)"}}},
    {"mark":{"type":"point","filled":true,"color":"black","size":8,"xOffset":9,"opacity":1},"encoding":{"y":{"field":"r2","type":"quantitative","title":"Expression Level (FPKM)"}}},
    {"data":{"values":[{"gene":"WRKY29"}]},"mark":{"type":"text","font":"Liberation Sans","fontSize":21,"fontWeight":"bold","fontStyle":"italic","align":"center","baseline":"alphabetic","dx":-1,"dy":-9},"encoding":{"x":{"datum":"atbmi1b","bandPosition":0.5},"y":{"datum":60},"text":{"field":"gene"}}}
   ]},
  {"transform":[{"filter":"datum.gene === 'WRKY38'"}],
   "encoding":{"x":{"field":"geno","type":"nominal","sort":null,"scale":{"domain":["WT Col","atbmi1a","atbmi1b","atbmi1a/b","atbmi1a/b/c"],"range":[44.7,241.3],"paddingInner":0.1667,"paddingOuter":0},"axis":null}},
   "layer":[
    {"mark":{"type":"bar","stroke":"#8a8a8a","strokeWidth":0.7},"encoding":{"y":{"field":"mean","type":"quantitative","title":"Expression Level (FPKM)","scale":{"domain":[0,10],"range":[269.3,192.7]},"axis":{"orient":"left","offset":-36.3,"format":"d","values":[0,2,4,6,8,10]}},"fill":{"field":"geno","type":"nominal","legend":null}}},
    {"mark":{"type":"errorbar","ticks":{"size":8,"thickness":1,"color":"black"},"rule":{"strokeWidth":1,"color":"black"}},"encoding":{"y":{"field":"lo","type":"quantitative","title":"Expression Level (FPKM)"},"y2":{"field":"hi"}}},
    {"mark":{"type":"point","filled":true,"color":"black","size":8,"xOffset":9,"opacity":1},"encoding":{"y":{"field":"r1","type":"quantitative","title":"Expression Level (FPKM)"}}},
    {"mark":{"type":"point","filled":true,"color":"black","size":8,"xOffset":9,"opacity":1},"encoding":{"y":{"field":"r2","type":"quantitative","title":"Expression Level (FPKM)"}}},
    {"data":{"values":[{"gene":"WRKY38"}]},"mark":{"type":"text","font":"Liberation Sans","fontSize":21,"fontWeight":"bold","fontStyle":"italic","align":"center","baseline":"alphabetic","dx":-1,"dy":-7},"encoding":{"x":{"datum":"atbmi1b","bandPosition":0.5},"y":{"datum":10},"text":{"field":"gene"}}}
   ]},
  {"transform":[{"filter":"datum.gene === 'MYB78'"}],
   "encoding":{"x":{"field":"geno","type":"nominal","sort":null,"scale":{"domain":["WT Col","atbmi1a","atbmi1b","atbmi1a/b","atbmi1a/b/c"],"range":[44.7,241.3],"paddingInner":0.1667,"paddingOuter":0},"axis":null}},
   "layer":[
    {"mark":{"type":"bar","stroke":"#8a8a8a","strokeWidth":0.7},"encoding":{"y":{"field":"mean","type":"quantitative","title":"Expression Level (FPKM)","scale":{"domain":[0,6],"range":[412,355]},"axis":{"orient":"left","offset":-36.3,"format":"d","values":[0,2,4,6]}},"fill":{"field":"geno","type":"nominal","legend":null}}},
    {"mark":{"type":"errorbar","ticks":{"size":8,"thickness":1,"color":"black"},"rule":{"strokeWidth":1,"color":"black"}},"encoding":{"y":{"field":"lo","type":"quantitative","title":"Expression Level (FPKM)"},"y2":{"field":"hi"}}},
    {"mark":{"type":"point","filled":true,"color":"black","size":8,"xOffset":9,"opacity":1},"encoding":{"y":{"field":"r1","type":"quantitative","title":"Expression Level (FPKM)"}}},
    {"mark":{"type":"point","filled":true,"color":"black","size":8,"xOffset":9,"opacity":1},"encoding":{"y":{"field":"r2","type":"quantitative","title":"Expression Level (FPKM)"}}},
    {"data":{"values":[{"gene":"MYB78"}]},"mark":{"type":"text","font":"Liberation Sans","fontSize":21,"fontWeight":"bold","fontStyle":"italic","align":"center","baseline":"alphabetic","dx":-1,"dy":-26},"encoding":{"x":{"datum":"atbmi1b","bandPosition":0.5},"y":{"datum":6},"text":{"field":"gene"}}}
   ]},
  {"transform":[{"filter":"datum.gene === 'MYB84'"}],
   "encoding":{"x":{"field":"geno","type":"nominal","sort":null,"scale":{"domain":["WT Col","atbmi1a","atbmi1b","atbmi1a/b","atbmi1a/b/c"],"range":[44.7,241.3],"paddingInner":0.1667,"paddingOuter":0},"axis":null}},
   "layer":[
    {"mark":{"type":"bar","stroke":"#8a8a8a","strokeWidth":0.7},"encoding":{"y":{"field":"mean","type":"quantitative","title":"Expression Level (FPKM)","scale":{"domain":[0,10],"range":[542,472]},"axis":{"orient":"left","offset":-36.3,"format":"d","values":[0,2,4,6,8,10]}},"fill":{"field":"geno","type":"nominal","legend":null}}},
    {"mark":{"type":"errorbar","ticks":{"size":8,"thickness":1,"color":"black"},"rule":{"strokeWidth":1,"color":"black"}},"encoding":{"y":{"field":"lo","type":"quantitative","title":"Expression Level (FPKM)"},"y2":{"field":"hi"}}},
    {"mark":{"type":"point","filled":true,"color":"black","size":8,"xOffset":9,"opacity":1},"encoding":{"y":{"field":"r1","type":"quantitative","title":"Expression Level (FPKM)"}}},
    {"mark":{"type":"point","filled":true,"color":"black","size":8,"xOffset":9,"opacity":1},"encoding":{"y":{"field":"r2","type":"quantitative","title":"Expression Level (FPKM)"}}},
    {"data":{"values":[{"gene":"MYB84"}]},"mark":{"type":"text","font":"Liberation Sans","fontSize":21,"fontWeight":"bold","fontStyle":"italic","align":"center","baseline":"alphabetic","dx":-1,"dy":-15},"encoding":{"x":{"datum":"atbmi1b","bandPosition":0.5},"y":{"datum":10},"text":{"field":"gene"}}}
   ]},
  {"transform":[{"filter":"datum.gene === 'GL3'"}],
   "encoding":{"x":{"field":"geno","type":"nominal","sort":null,"scale":{"domain":["WT Col","atbmi1a","atbmi1b","atbmi1a/b","atbmi1a/b/c"],"range":[44.7,241.3],"paddingInner":0.1667,"paddingOuter":0},"axis":null}},
   "layer":[
    {"mark":{"type":"bar","stroke":"#8a8a8a","strokeWidth":0.7},"encoding":{"y":{"field":"mean","type":"quantitative","title":"Expression Level (FPKM)","scale":{"domain":[0,4],"range":[684,617]},"axis":{"orient":"left","offset":-36.3,"format":"d","values":[0,1,2,3,4]}},"fill":{"field":"geno","type":"nominal","legend":null}}},
    {"mark":{"type":"errorbar","ticks":{"size":8,"thickness":1,"color":"black"},"rule":{"strokeWidth":1,"color":"black"}},"encoding":{"y":{"field":"lo","type":"quantitative","title":"Expression Level (FPKM)"},"y2":{"field":"hi"}}},
    {"mark":{"type":"point","filled":true,"color":"black","size":8,"xOffset":9,"opacity":1},"encoding":{"y":{"field":"r1","type":"quantitative","title":"Expression Level (FPKM)"}}},
    {"mark":{"type":"point","filled":true,"color":"black","size":8,"xOffset":9,"opacity":1},"encoding":{"y":{"field":"r2","type":"quantitative","title":"Expression Level (FPKM)"}}},
    {"data":{"values":[{"gene":"GL3"}]},"mark":{"type":"text","font":"Liberation Sans","fontSize":21,"fontWeight":"bold","fontStyle":"italic","align":"center","baseline":"alphabetic","dx":-1,"dy":-18},"encoding":{"x":{"datum":"atbmi1b","bandPosition":0.5},"y":{"datum":4},"text":{"field":"gene"}}}
   ]}
 ]}
]
}
